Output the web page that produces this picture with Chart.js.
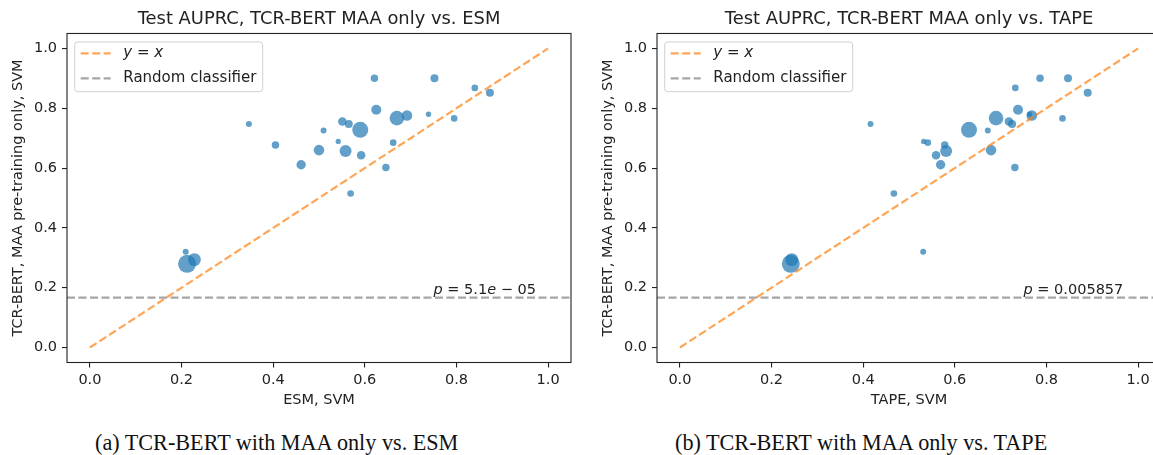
<!DOCTYPE html>
<html>
<head>
<meta charset="utf-8">
<script src="https://cdn.jsdelivr.net/npm/chart.js@4.4.0/dist/chart.umd.min.js"></script>
<style>
  html, body { margin: 0; padding: 0; background: #fff; }
  body { width: 1153px; height: 455px; overflow: hidden; position: relative; }
  .panel { position: absolute; top: 0; width: 580px; height: 415px; }
  .caption { position: absolute; top: 432px; font-family: "Liberation Serif", serif; font-size: 22.2px; line-height: 22px; color: #111; white-space: nowrap; }
</style>
</head>
<body>
<div class="panel" style="left:0px"><canvas id="esmChart" width="580" height="415"></canvas></div>
<div class="panel" style="left:590px"><canvas id="tapeChart" width="580" height="415"></canvas></div>
<div class="caption" style="left:95px">(a) TCR-BERT with MAA only vs. ESM</div>
<div class="caption" style="left:675px">(b) TCR-BERT with MAA only vs. TAPE</div>
<script>
// test AUPRC per dataset, TCR-BERT (MAA pre-training only) on y
var maaY = [0.900, 0.900, 0.868, 0.852, 0.795, 0.767, 0.776, 0.780, 0.766, 0.747, 0.756, 0.747, 0.728,
            0.726, 0.689, 0.685, 0.677, 0.660, 0.657, 0.643, 0.611, 0.602, 0.515, 0.320, 0.280, 0.294];
var esmX = [0.621, 0.752, 0.840, 0.873, 0.625, 0.670, 0.692, 0.739, 0.795, 0.347, 0.551, 0.565, 0.590,
            0.510, 0.542, 0.662, 0.405, 0.500, 0.558, 0.592, 0.461, 0.646, 0.569, 0.209, 0.212, 0.228];
var tapeX = [0.786, 0.847, 0.732, 0.890, 0.738, 0.690, 0.768, 0.763, 0.835, 0.416, 0.718, 0.725, 0.631,
             0.672, 0.532, 0.541, 0.578, 0.679, 0.581, 0.559, 0.569, 0.731, 0.467, 0.531, 0.242, 0.244];
// relative marker area (dataset size)
var setSize = [14, 16, 11, 16, 25, 53, 28, 7, 11, 9, 18, 16, 64, 9, 7, 11, 14, 28, 36, 18, 22, 14, 11, 9, 81, 42];
var tickVals = [0.0, 0.2, 0.4, 0.6, 0.8, 1.0];
var randomLevel = 1 / 6;
var pValues = ['5.1e-05', '0.005857'];

var FONT = '"DejaVu Sans", sans-serif';
var INK = '#222';

function drawPieces(ctx, pieces, x, y, size) {
    pieces.forEach(function (p) {
        ctx.font = (p[1] ? 'italic ' : '') + size + 'px ' + FONT;
        ctx.fillText(p[0], x, y);
        x += ctx.measureText(p[0]).width;
    });
}

function pPieces(str) {
    var parts = str.split('e');
    var out = [['p', 1], [' = ', 0], [parts[0], 0]];
    if (parts.length > 1) {
        out.push(['e', 1]);
        out.push([' \u2212 ', 0]);
        out.push([parts[1].replace('-', ''), 0]);
    }
    return out;
}

var overlay = {
    id: 'overlay',
    afterDraw: function (chart, args, opts) {
        var ctx = chart.ctx, a = chart.chartArea;
        var sx = chart.scales.x, sy = chart.scales.y;
        ctx.save();
        // frame
        ctx.strokeStyle = INK;
        ctx.lineWidth = 1.1;
        ctx.strokeRect(a.left, a.top, a.right - a.left, a.bottom - a.top);

        // legend
        var lx = a.left + 7.7, ly = a.top + 8.5;
        ctx.beginPath();
        ctx.roundRect(lx, ly, 188, 49.7, 3);
        ctx.fillStyle = 'rgba(255,255,255,0.8)';
        ctx.fill();
        ctx.strokeStyle = '#d0d0d0';
        ctx.lineWidth = 1;
        ctx.stroke();
        var rows = [['rgba(255,127,14,0.7)', a.top + 19.8], ['rgba(128,128,128,0.7)', a.top + 44.8]];
        ctx.lineWidth = 2.2;
        ctx.setLineDash([8, 3.5]);
        rows.forEach(function (r) {
            ctx.strokeStyle = r[0];
            ctx.beginPath();
            ctx.moveTo(a.left + 13.7, r[1]);
            ctx.lineTo(a.left + 43.7, r[1]);
            ctx.stroke();
        });
        ctx.setLineDash([]);
        ctx.fillStyle = INK;
        ctx.textBaseline = 'middle';
        drawPieces(ctx, [['y', 1], [' = ', 0], ['x', 1]], a.left + 56.3, rows[0][1], 15);
        drawPieces(ctx, [['Random classifier', 0]], a.left + 56.3, rows[1][1], 15);

        // p-value note
        ctx.textBaseline = 'alphabetic';
        drawPieces(ctx, pPieces(opts.pText), sx.getPixelForValue(0.75), sy.getPixelForValue(0.178), 14.5);
        ctx.restore();
    }
};

function makeChart(id, xVals, title, xLabel, pText) {
    var pts = xVals.map(function (v, i) { return { x: v, y: maaY[i] }; });
    var radii = setSize.map(function (s) { return Math.sqrt(s); });
    var tickFont = { family: FONT, size: 14.5 };
    var fixTicks = function (s) { s.ticks = tickVals.map(function (v) { return { value: v }; }); };

    return new Chart(document.getElementById(id), {
        type: 'scatter',
        data: {
            datasets: [{
                label: 'y = x',
                data: [{ x: 0, y: 0 }, { x: 1, y: 1 }],
                showLine: true,
                borderColor: 'rgba(255,127,14,0.7)',
                borderWidth: 2.2,
                borderDash: [8, 3.5],
                pointRadius: 0
            }, {
                label: 'Random classifier',
                data: [{ x: -0.05, y: randomLevel }, { x: 1.05, y: randomLevel }],
                showLine: true,
                borderColor: 'rgba(128,128,128,0.7)',
                borderWidth: 2.2,
                borderDash: [8, 3.5],
                pointRadius: 0
            }, {
                label: 'datasets',
                data: pts,
                pointRadius: radii,
                pointHoverRadius: radii,
                backgroundColor: 'rgba(31,119,180,0.7)',
                borderWidth: 0
            }]
        },
        options: {
            responsive: false,
            animation: false,
            devicePixelRatio: 1,
            layout: { padding: { left: 0, right: 7, top: 0, bottom: 0 } },
            plugins: {
                legend: { display: false },
                tooltip: { enabled: false },
                title: {
                    display: true,
                    text: title,
                    fullSize: false,
                    color: INK,
                    font: { family: FONT, size: 17.9, weight: 'normal' },
                    padding: { top: 8.7, bottom: 3.3 }
                },
                overlay: { pText: pText }
            },
            scales: {
                x: {
                    type: 'linear',
                    min: -0.05,
                    max: 1.05,
                    afterBuildTicks: fixTicks,
                    afterFit: function (s) { s.height = 52.5; },
                    ticks: { font: tickFont, color: INK, padding: 4, maxRotation: 0, autoSkip: false,
                             callback: function (v) { return v.toFixed(1); } },
                    grid: { drawOnChartArea: false, tickLength: 5, color: INK, lineWidth: 1.1 },
                    border: { display: false },
                    title: { display: true, text: xLabel, color: INK, font: tickFont, padding: { top: 0, bottom: 6 } }
                },
                y: {
                    type: 'linear',
                    min: -0.05,
                    max: 1.05,
                    afterBuildTicks: fixTicks,
                    afterFit: function (s) { s.width = 67; },
                    ticks: { font: tickFont, color: INK, padding: 5,
                             callback: function (v) { return v.toFixed(1); } },
                    grid: { drawOnChartArea: false, tickLength: 5, color: INK, lineWidth: 1.1 },
                    border: { display: false },
                    title: { display: true, text: 'TCR-BERT, MAA pre-training only, SVM', color: INK, font: tickFont,
                             padding: { top: 10, bottom: 0 } }
                }
            }
        },
        plugins: [overlay]
    });
}

makeChart('esmChart', esmX, 'Test AUPRC, TCR-BERT MAA only vs. ESM', 'ESM, SVM', pValues[0]);
makeChart('tapeChart', tapeX, 'Test AUPRC, TCR-BERT MAA only vs. TAPE', 'TAPE, SVM', pValues[1]);
</script>
</body>
</html>
